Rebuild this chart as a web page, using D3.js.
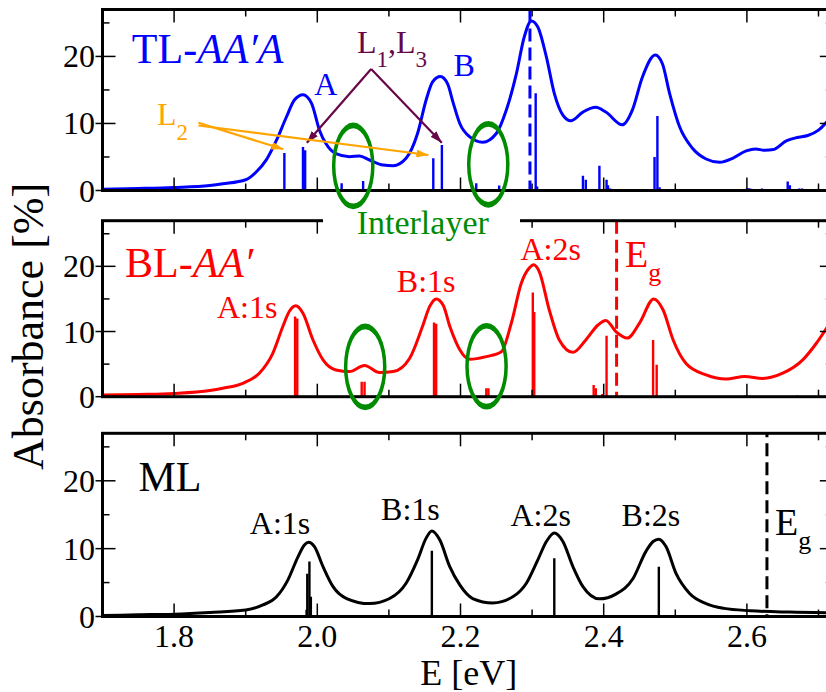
<!DOCTYPE html>
<html><head><meta charset="utf-8">
<script src="https://cdn.jsdelivr.net/npm/d3@7"></script>
<style>body{margin:0;background:#fff}</style>
</head><body>
<svg id="fig" width="826" height="692"></svg>
<script>
// ---------------- data ----------------
const energyDomain = [1.7, 2.72];
const absDomain = [0, 27];
const xTickMajor = [1.8, 2.0, 2.2, 2.4, 2.6];
const xTickMinor = [1.9, 2.1, 2.3, 2.5, 2.7];
const xTickLabels = ["1.8", "2.0", "2.2", "2.4", "2.6"];
const yTickMajor = [0, 10, 20];
const yTickMinor = [5, 15, 25];
const yTickLabels = ["0", "10", "20"];

// TL-AA'A absorbance spectrum [E (eV), absorbance (%)]
const tlCurve = [[1.70,0.2],[1.75,0.3],[1.80,0.45],[1.85,0.75],[1.868,1.0],[1.90,1.6],[1.915,2.8],[1.929,4.6],
 [1.943,7.5],[1.957,11.0],[1.968,13.5],[1.980,14.3],[1.992,13.0],[2.003,9.0],[2.012,7.0],[2.026,5.5],[2.045,5.05],
 [2.059,5.15],[2.073,4.55],[2.092,3.8],[2.106,3.7],[2.124,4.8],[2.140,8.5],[2.152,13.5],[2.161,16.2],[2.172,17.0],
 [2.182,15.9],[2.190,13.0],[2.199,10.0],[2.213,8.0],[2.231,7.2],[2.250,8.5],[2.264,12.0],[2.278,17.4],[2.289,22.9],
 [2.299,25.3],[2.308,24.4],[2.320,19.9],[2.331,14.5],[2.343,11.25],[2.354,10.4],[2.371,11.7],[2.389,12.4],[2.403,11.7],
 [2.426,9.8],[2.440,12.0],[2.454,16.9],[2.472,20.2],[2.482,18.9],[2.492,14.5],[2.506,9.5],[2.524,6.3],[2.543,4.7],
 [2.562,4.2],[2.580,4.8],[2.599,5.9],[2.612,6.2],[2.625,6.0],[2.637,6.1],[2.655,7.4],[2.670,7.9],[2.685,8.2],
 [2.700,9.0],[2.712,10.3],[2.72,11.3]];
const tlSticks = [[1.954,5.6],[1.980,6.5],[1.983,6.0],[2.034,1.1],[2.064,1.4],[2.162,4.8],[2.174,6.8],[2.222,1.1],
 [2.254,0.75],[2.305,14.5],[2.307,0.6],[2.371,2.2],[2.375,1.6],[2.394,3.7],[2.404,1.6],[2.406,0.8],[2.409,0.3],
 [2.433,0.2],[2.440,0.2],[2.471,5.0],[2.475,11.1],[2.478,0.5],[2.517,0.1],[2.554,0.1],[2.600,0.35],[2.603,0.35],
 [2.606,0.25],[2.621,0.3],[2.657,1.35],[2.660,0.8],[2.673,0.3],[2.677,0.3]];
const tlGap = 2.297;

// BL-AA' absorbance spectrum
const blCurve = [[1.70,0.26],[1.75,0.35],[1.80,0.5],[1.85,0.95],[1.868,1.3],[1.896,2.05],[1.919,3.6],[1.938,6.7],
 [1.952,10.8],[1.961,13.1],[1.970,13.95],[1.980,12.8],[1.994,8.7],[2.008,5.65],[2.026,4.1],[2.045,3.85],[2.066,4.8],
 [2.087,3.7],[2.106,3.85],[2.129,5.9],[2.147,10.8],[2.157,13.85],[2.166,15.0],[2.176,14.0],[2.185,10.8],[2.194,8.3],
 [2.199,7.2],[2.213,5.75],[2.236,6.15],[2.257,6.9],[2.271,11.3],[2.285,17.45],[2.296,19.75],[2.302,20.25],[2.310,19.2],
 [2.324,13.3],[2.338,8.7],[2.357,6.8],[2.375,8.7],[2.392,11.0],[2.403,11.7],[2.417,10.0],[2.433,9.0],[2.450,11.3],
 [2.470,15.0],[2.483,13.3],[2.497,8.7],[2.515,5.1],[2.543,3.35],[2.571,2.7],[2.597,3.1],[2.622,2.8],[2.650,3.6],
 [2.678,5.65],[2.697,8.2],[2.710,10.3],[2.72,12.0]];
const blSticks = [[1.969,12.3],[1.972,12.0],[2.062,2.3],[2.066,2.3],[2.163,11.4],[2.166,11.2],[2.236,1.3],[2.239,1.3],
 [2.301,16.0],[2.303,13.0],[2.386,1.8],[2.389,1.3],[2.398,0.4],[2.404,9.35],[2.425,0.15],[2.469,8.7],[2.474,4.9],
 [2.598,0.2],[2.670,0.2]];
const blGap = 2.418;

// ML absorbance spectrum
const mlCurve = [[1.70,0.15],[1.75,0.25],[1.80,0.35],[1.85,0.6],[1.90,0.95],[1.924,1.7],[1.943,2.9],[1.959,5.4],
 [1.973,8.8],[1.982,10.55],[1.988,10.95],[1.996,10.3],[2.008,7.35],[2.022,4.4],[2.041,2.65],[2.073,1.9],[2.101,2.65],
 [2.124,4.9],[2.140,8.35],[2.152,11.55],[2.160,12.6],[2.171,11.3],[2.185,7.35],[2.199,4.65],[2.217,2.65],[2.245,2.0],
 [2.273,2.9],[2.292,4.9],[2.308,8.35],[2.320,11.05],[2.331,12.3],[2.343,11.05],[2.357,7.35],[2.371,4.4],[2.394,2.6],
 [2.417,3.3],[2.441,5.6],[2.459,9.6],[2.469,11.05],[2.477,11.4],[2.487,10.3],[2.501,6.35],[2.520,3.4],[2.543,1.9],
 [2.568,1.2],[2.605,0.85],[2.659,0.65],[2.72,0.55]];
const mlSticks = [[1.985,1.0],[1.986,6.3],[1.989,8.1],[1.991,2.9],[2.160,9.7],[2.331,8.6],[2.477,7.35]];
const mlGap = 2.628;

// peak labels [text, E, absorbance]
const tlPeakLabels = [["A",2.012,14.25],["B",2.205,17.1]];
const blPeakLabels = [["A:1s",1.902,12.0],["B:1s",2.152,16.1],["A:2s",2.326,20.97]];
const mlPeakLabels = [["A:1s",1.948,12.16],["B:1s",2.130,14.22],["A:2s",2.312,13.34],["B:2s",2.466,13.34]];
// interlayer ellipses [E, absorbance]
const tlEllipses = [[2.0502,3.67],[2.2388,3.9]];
const blEllipses = [[2.0669,4.57],[2.2364,4.68]];

// ---------------- drawing ----------------
const FONT = '"Liberation Serif"';
const svg = d3.select("#fig");
const x = d3.scaleLinear().domain(energyDomain).range([102.5, 102.5 + 716 * (energyDomain[1] - energyDomain[0])]);
const C = {blue:"#0000ff", red:"#ff0000", black:"#000000", green:"#008b00", maroon:"#670748", orange:"#ffa500"};
const FS = 32;
const txt = (sel) => sel.append("text").style("font-family", FONT);

const defs = svg.append("defs");
[["ahM", C.maroon], ["ahO", C.orange]].forEach(([id, col]) => {
 defs.append("marker").attr("id", id).attr("viewBox", "0 0 12 8").attr("refX", 12).attr("refY", 4)
   .attr("markerWidth", 12).attr("markerHeight", 8).attr("markerUnits", "userSpaceOnUse").attr("orient", "auto")
   .append("path").attr("d", "M0,0L12,4L0,8z").attr("fill", col);
});

const panels = [
 {id:"tl", top:9.5, bottom:190.5, color:C.blue, curve:tlCurve, sticks:tlSticks, gap:tlGap},
 {id:"bl", top:220.7, bottom:396.7, color:C.red, curve:blCurve, sticks:blSticks, gap:blGap},
 {id:"ml", top:433.3, bottom:616.5, color:C.black, curve:mlCurve, sticks:mlSticks, gap:mlGap}
];
const X0 = x.range()[0], X1 = x.range()[1];

panels.forEach((p, i) => {
 p.y = d3.scaleLinear().domain(absDomain).range([p.bottom, p.top]);
 const g = svg.append("g");
 const clipId = "clip" + p.id;
 defs.append("clipPath").attr("id", clipId)
   .append("rect").attr("x", X0).attr("y", p.top).attr("width", X1 - X0).attr("height", p.bottom - p.top);
 const pg = g.append("g").attr("clip-path", `url(#${clipId})`);
 pg.selectAll("line.stick").data(p.sticks).join("line")
   .attr("x1", d => x(d[0])).attr("x2", d => x(d[0]))
   .attr("y1", p.y(0)).attr("y2", d => p.y(d[1]))
   .attr("stroke", p.color).attr("stroke-width", 2.4);
 pg.append("path").datum(p.curve)
   .attr("d", d3.line().x(d => x(d[0])).y(d => p.y(d[1])).curve(d3.curveMonotoneX))
   .attr("fill", "none").attr("stroke", p.color).attr("stroke-width", 3);
 pg.append("line").attr("x1", x(p.gap)).attr("x2", x(p.gap))
   .attr("y1", p.y(absDomain[1])).attr("y2", p.y(0))
   .attr("stroke", p.color).attr("stroke-width", 3).attr("stroke-dasharray", "13,6")
   .attr("stroke-dashoffset", p.id === "ml" ? -10 : 0);
 g.append("rect").attr("x", X0).attr("y", p.top).attr("width", X1 - X0).attr("height", p.bottom - p.top)
   .attr("fill", "none").attr("stroke", "#000").attr("stroke-width", 3);
 const tk = g.append("g").attr("stroke", "#000").attr("stroke-width", 1.5);
 xTickMajor.concat(xTickMinor).forEach(t => {
   const L = xTickMajor.includes(t) ? 13 : 7;
   tk.append("line").attr("x1", x(t)).attr("x2", x(t)).attr("y1", p.bottom).attr("y2", p.bottom - L);
   tk.append("line").attr("x1", x(t)).attr("x2", x(t)).attr("y1", p.top).attr("y2", p.top + L);
 });
 yTickMajor.forEach(t => {
   tk.append("line").attr("x1", X0 - 7).attr("x2", X0 + 13).attr("y1", p.y(t)).attr("y2", p.y(t));
   tk.append("line").attr("x1", X1 - 13).attr("x2", X1).attr("y1", p.y(t)).attr("y2", p.y(t));
 });
 yTickMinor.forEach(t => {
   tk.append("line").attr("x1", X0).attr("x2", X0 + 7).attr("y1", p.y(t)).attr("y2", p.y(t));
   tk.append("line").attr("x1", X1 - 7).attr("x2", X1).attr("y1", p.y(t)).attr("y2", p.y(t));
 });
 g.selectAll("text.yl").data(yTickMajor).join("text").style("font-family", FONT)
   .attr("x", 95).attr("y", d => p.y(d) + 11).attr("text-anchor", "end")
   .attr("font-size", FS).attr("fill", "#000").text((d, k) => yTickLabels[k]);
});

const [TL, BL, ML] = panels;

svg.selectAll("text.xl").data(xTickMajor).join("text").style("font-family", FONT)
 .attr("x", d => x(d)).attr("y", 647).attr("text-anchor", "middle")
 .attr("font-size", FS).text((d, k) => xTickLabels[k]);
txt(svg).attr("x", (x(1.7) + x(2.72)) / 2 + 1).attr("y", 685).attr("text-anchor", "middle")
 .attr("font-size", 36).text("E [eV]");
txt(svg).attr("transform", "translate(43,470) rotate(-90)").attr("text-anchor", "start")
 .attr("font-size", 44).text("Absorbance [%]");

svg.append("rect").attr("x", x(2.008)).attr("y", 211).attr("width", x(2.2831) - x(2.008)).attr("height", 28).attr("fill", "#fff");

const t1 = txt(svg).attr("x", x(1.741)).attr("y", TL.y(18.97)).attr("font-size", 42).attr("fill", C.blue);
t1.append("tspan").text("TL-");
t1.append("tspan").attr("font-style", "italic").text("AA\u2032A");
const t2 = txt(svg).attr("x", x(1.7315)).attr("y", BL.y(18.3)).attr("font-size", 42).attr("fill", C.red);
t2.append("tspan").text("BL-");
t2.append("tspan").attr("font-style", "italic").text("AA\u2032");
txt(svg).attr("x", x(1.7503)).attr("y", ML.y(18.54)).attr("font-size", 42).attr("fill", "#000").text("ML");

[[TL, tlPeakLabels, C.blue], [BL, blPeakLabels, C.red], [ML, mlPeakLabels, "#000"]].forEach(([p, labs, col]) => {
 svg.selectAll(null).data(labs).join("text").style("font-family", FONT)
   .attr("x", d => x(d[1])).attr("y", d => p.y(d[2])).attr("text-anchor", "middle")
   .attr("font-size", FS).attr("fill", col).text(d => d[0]);
});

function eg(p, E, v, col) {
 const t = txt(svg).attr("x", x(E)).attr("y", p.y(v)).attr("font-size", 38).attr("fill", col);
 t.append("tspan").text("E");
 t.append("tspan").attr("dy", 14).attr("font-size", 26).text("g");
}
eg(BL, 2.4298, 19.94, C.red);
eg(ML, 2.6393, 12.0, "#000");

function ring(p, E, v) {
 const cx = x(E), cy = p.y(v);
 const e = (rx, ry, dir) => `M${cx - rx},${cy}A${rx},${ry} 0 1,${dir} ${cx + rx},${cy}A${rx},${ry} 0 1,${dir} ${cx - rx},${cy}Z`;
 svg.append("path").attr("d", e(21.3, 43.3, 1) + e(17.8, 37.6, 0)).attr("fill", C.green).attr("fill-rule", "evenodd");
}
tlEllipses.forEach(d => ring(TL, d[0], d[1]));
blEllipses.forEach(d => ring(BL, d[0], d[1]));
txt(svg).attr("x", x(2.055)).attr("y", BL.y(24.9)).attr("font-size", 34).attr("fill", C.green).text("Interlayer");

const l13 = txt(svg).attr("x", x(2.0553)).attr("y", TL.y(20.47)).attr("font-size", FS).attr("fill", C.maroon);
l13.append("tspan").text("L");
l13.append("tspan").attr("dy", 14).attr("font-size", 23).text("1");
l13.append("tspan").attr("dy", -14).text(",L");
l13.append("tspan").attr("dy", 14).attr("font-size", 23).text("3");
const apex = [2.0752, 18.12];
[[1.9854, 7.13], [2.1739, 7.13]].forEach(end => {
 svg.append("line").attr("x1", x(apex[0])).attr("y1", TL.y(apex[1])).attr("x2", x(end[0])).attr("y2", TL.y(end[1]))
   .attr("stroke", C.maroon).attr("stroke-width", 2.2).attr("marker-end", "url(#ahM)");
});
const l2 = txt(svg).attr("x", x(1.776)).attr("y", TL.y(9.77)).attr("font-size", FS).attr("fill", C.orange);
l2.append("tspan").text("L");
l2.append("tspan").attr("dy", 15).attr("font-size", 23).text("2");
[[[1.834, 10.1], [1.9527, 6.15]], [[1.834, 9.7], [2.1552, 5.3]]].forEach(([s, e]) => {
 svg.append("line").attr("x1", x(s[0])).attr("y1", TL.y(s[1])).attr("x2", x(e[0])).attr("y2", TL.y(e[1]))
   .attr("stroke", C.orange).attr("stroke-width", 2.2).attr("marker-end", "url(#ahO)");
});
</script>
</body></html>
